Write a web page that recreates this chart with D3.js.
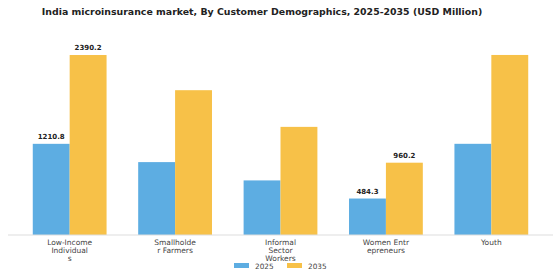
<!DOCTYPE html>
<html lang="en">
<head>
  <meta charset="UTF-8">
  <title>India microinsurance market</title>
  <script src="https://d3js.org/d3.v7.min.js"></script>
  <style>
    body { margin: 0; background: #fff; }
    svg { display: block; font-family: "DejaVu Sans", sans-serif; }
    .chart-title { font-size: 9.4px; font-weight: bold; fill: #222; }
    .value-label { font-size: 7px; font-weight: bold; fill: #222; }
    .cat-label { font-size: 7.5px; fill: #444; }
    .legend-text { font-size: 7.3px; fill: #444; }
  </style>
</head>
<body>
  <svg width="560" height="280"></svg>

  <script>
    const width = 560;
    const height = 280;

    // Data
    const categories = [
      ["Low-Income", "Individual", "s"],
      ["Smallholde", "r Farmers"],
      ["Informal", "Sector", "Workers"],
      ["Women Entr", "epreneurs"],
      ["Youth"]
    ];
    const years = ["2025", "2035"];
    const values2025 = [1210.8, 968, 725, 484.3, 1211];
    const values2035 = [2390.2, 1923, 1436, 960.2, 2391];
    const shownLabels = [0, 3]; // groups that carry value labels
    const colors = ["#5DADE2", "#F7C148"];

    const svg = d3.select("svg");

    const barW = 0.35;
    const x = d3.scaleLinear()
      .domain([-0.585, categories.length - 1 + 0.585])
      .range([8, 553]);

    const y = d3.scaleLinear()
      .domain([0, 2510])
      .range([235, 46]);

    const bw = x(barW) - x(0);

    // Title
    svg.append("text")
      .attr("class", "chart-title")
      .attr("x", 262)
      .attr("y", 15)
      .attr("text-anchor", "middle")
      .text("India microinsurance market, By Customer Demographics, 2025-2035 (USD Million)");

    // Bars
    const series = [values2025, values2035];
    series.forEach((vals, s) => {
      svg.append("g")
        .selectAll("rect")
        .data(vals)
        .join("rect")
        .attr("x", (d, i) => x(i + (s === 0 ? -barW : 0)))
        .attr("y", d => y(d))
        .attr("width", bw)
        .attr("height", d => y(0) - y(d))
        .attr("fill", colors[s]);

      svg.append("g")
        .selectAll("text")
        .data(vals.map((v, i) => ({ v, i })).filter(d => shownLabels.includes(d.i)))
        .join("text")
        .attr("class", "value-label")
        .attr("x", d => x(d.i + (s === 0 ? -barW / 2 : barW / 2)))
        .attr("y", d => y(d.v) - 5)
        .attr("text-anchor", "middle")
        .text(d => d.v.toFixed(1));
    });

    // Baseline
    svg.append("line")
      .attr("x1", x.range()[0])
      .attr("x2", x.range()[1])
      .attr("y1", y(0))
      .attr("y2", y(0))
      .attr("stroke", "#ddd")
      .attr("stroke-width", 1);

    // Category labels
    svg.append("g")
      .selectAll("text")
      .data(categories)
      .join("text")
      .attr("class", "cat-label")
      .attr("text-anchor", "middle")
      .attr("y", 245)
      .each(function (lines, i) {
        d3.select(this).selectAll("tspan")
          .data(lines)
          .join("tspan")
          .attr("x", x(i))
          .attr("dy", (d, j) => j === 0 ? 0 : 8)
          .text(d => d);
      });

    // Legend
    const legend = svg.append("g");
    const legendX = [234, 287];
    years.forEach((yr, i) => {
      legend.append("rect")
        .attr("x", legendX[i])
        .attr("y", 263)
        .attr("width", 15)
        .attr("height", 5)
        .attr("fill", colors[i]);
      legend.append("text")
        .attr("class", "legend-text")
        .attr("x", legendX[i] + 21)
        .attr("y", 268.5)
        .text(yr);
    });
  </script>
</body>
</html>
